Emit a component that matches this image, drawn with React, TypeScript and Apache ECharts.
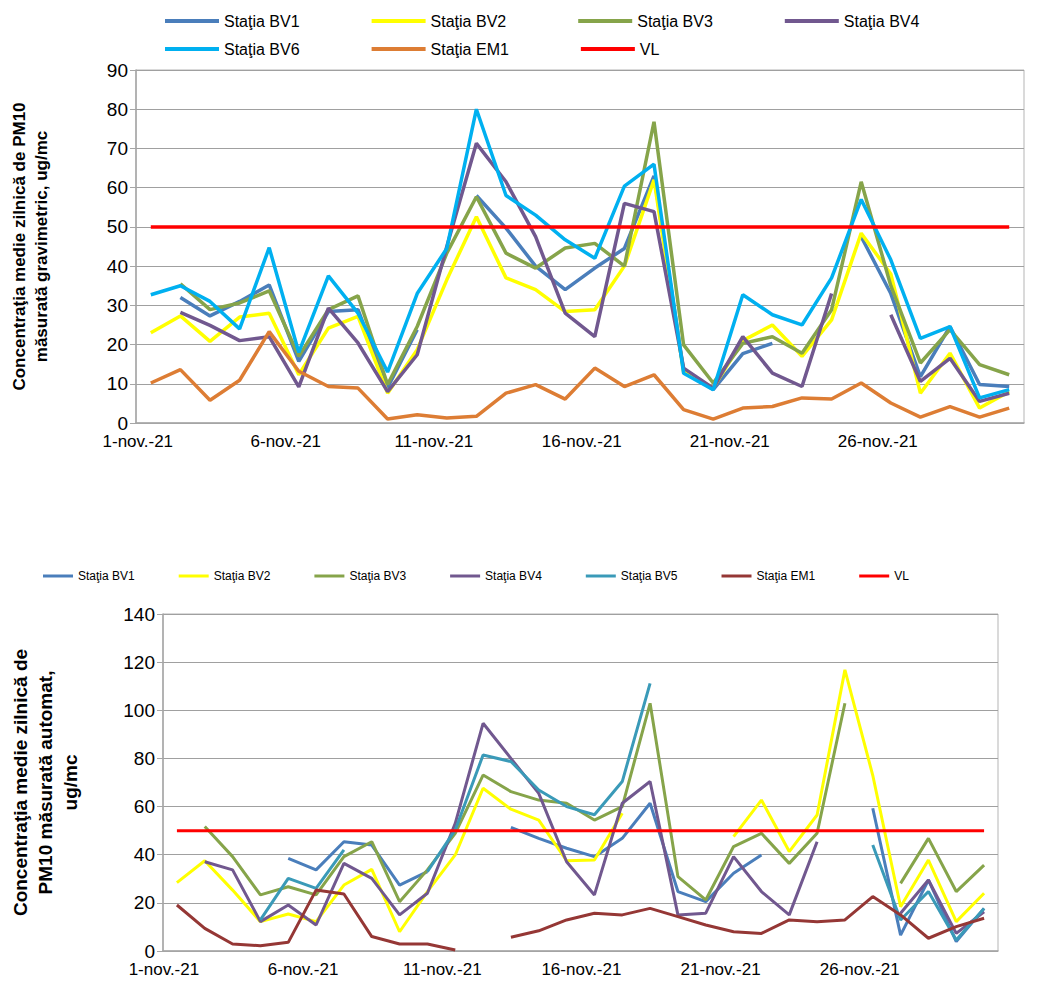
import { useEffect, useRef } from "react";
import * as echarts from "echarts";

const days = Array.from({ length: 30 }, (_, i) => `${i + 1}-nov.-21`);
const _ = null;

// grafic 1 - gravimetric
const gBV1 = [_, 32, 27.3, 31, 35.2, 15.7, 28.4, 28.9, 9, 23.8, _, 58, 49.7, 40, 34, 39.5, 44.5, 63, 13.5, 8.5, 17.7, 20.3, _, _, 47.5, 33, 11.8, 24.6, 9.8, 9.3];
const gBV2 = [23, 27.3, 20.8, 27, 28, 12.3, 24.2, 27.2, 7.6, 18.7, 36.5, 52.6, 37, 34, 28.4, 28.9, 40, 62, 13, 9, 21, 25, 17, 26.3, 48.4, 38, 7.6, 17.8, 3.8, 8];
const gBV3 = [_, 35.5, 28.9, 30.6, 33.7, 17, 28.9, 32.4, 9.8, 24.6, 43.3, 57.7, 43.3, 39.5, 44.6, 45.8, 40, 76.8, 19.9, 10.2, 20.3, 22, 17.8, 28.9, 61.5, 35, 15.3, 23.8, 14.9, 12.3];
const gBV4 = [_, 28.2, 24.9, 21, 22, 9.2, 29.3, 20.4, 8, 17.4, 45, 71.3, 61.5, 47.5, 28, 22, 56, 53.9, 14, 8.9, 22, 12.7, 9.3, 33, _, 27.6, 10.6, 16.5, 5.5, 7.6];
const gBV6 = [32.7, 35, 31, 24, 44.7, 18, 37.5, 28, 13, 33, 44.5, 80, 58, 53, 46.7, 42, 60.4, 66, 12.7, 8.5, 32.7, 27.6, 25, 37, 57, 41.6, 21.6, 24.6, 6.4, 8.5];
const gEM1 = [10.2, 13.6, 5.8, 10.9, 23.3, 13.2, 9.3, 8.9, 1, 2.1, 1.3, 1.7, 7.6, 9.8, 6.1, 14, 9.3, 12.3, 3.4, 1, 3.8, 4.2, 6.4, 6.1, 10.2, 5.1, 1.5, 4.2, 1.5, 3.8];

// grafic 2 - automat
const aBV1 = [_, _, _, _, 38.5, 33.7, 45.4, 44, 27.4, 33, _, _, 51.4, 46.8, 42.7, 39.2, 46.8, 61.4, 24.7, 20.5, 32.3, 39.9, _, _, _, 59.3, 6.6, 29.5, 3.9, 17.7];
const aBV2 = [28.4, 37.5, 25.3, 12.2, 15.4, 12.2, 27.4, 33.9, 8, 24.7, 39.9, 67.6, 58.9, 54.4, 37.5, 37.8, 57.2, _, _, _, 47.5, 62.7, 41.3, 56.5, 116.8, 73, 18.4, 37.8, 12.2, 24];
const aBV3 = [_, 51.7, 39.2, 23.3, 26.7, 23.3, 39.2, 45.4, 20.5, 33.7, 48.9, 73.1, 66.2, 62.7, 61.4, 54.4, 60, 102.9, 30.9, 21.2, 43.4, 48.9, 36.4, 48.9, 102.9, _, 28.1, 46.8, 24.7, 35.7];
const aBV4 = [_, 37.1, 33.7, 12.2, 19.1, 10.8, 36.4, 30.2, 15, 24, 53, 94.6, 80, 65.5, 37.1, 23.3, 61.4, 70.4, 15, 15.7, 39.2, 24.7, 15, 45.4, _, _, 15.7, 29.5, 7.3, 16.3];
const aBV5 = [_, _, _, 12.9, 30.2, 26, 42, _, _, 33, 50.3, 81.4, 78.7, 66.9, 60, 56.6, 70.4, 111.2, _, _, _, _, _, _, _, 44, 12.9, 24.7, 4.6, 17.7];
const aEM1 = [19.1, 9.4, 2.9, 2.2, 3.6, 25.3, 23.7, 6, 2.9, 2.9, 0.4, _, 5.7, 8.4, 12.9, 15.7, 15, 17.7, 14.3, 10.8, 8, 7.3, 12.9, 12.2, 12.9, 22.6, 15, 5.3, 10.1, 13.6];
const vl = days.map(() => 50);

const FONT = "Liberation Sans";

function lines(defs: [string, (number | null)[], string][], width: number) {
    return defs.map(([name, data, color]) => ({
        name,
        type: "line",
        data,
        color,
        symbol: "none",
        lineStyle: { width, color },
        connectNulls: false,
    }));
}

function baseAxis(fontSize: number) {
    return {
        type: "category",
        data: days,
        boundaryGap: true,
        axisLine: { lineStyle: { color: "#a6a6a6", width: 1.5 } },
        axisTick: { interval: 4, length: 6, lineStyle: { color: "#a6a6a6" } },
        axisLabel: { interval: 4, color: "#000", fontSize, fontFamily: FONT, padding: [0, 26, 0, 0], margin: 10 },
    };
}

function App() {
    const topRef = useRef<HTMLDivElement | null>(null);
    const botRef = useRef<HTMLDivElement | null>(null);

    useEffect(() => {
        document.body.style.margin = "0";
        if (!topRef.current || !botRef.current) return;
        const top = echarts.init(topRef.current, undefined, { renderer: "svg" });
        const bot = echarts.init(botRef.current, undefined, { renderer: "svg" });

        const legTxt = { fontSize: 16, fontFamily: FONT, color: "#000" };
        const leg = { left: 160, width: 890, itemWidth: 54, itemHeight: 4, itemGap: 72, textStyle: legTxt, icon: "rect" };
        top.setOption({
            animation: false,
            textStyle: { fontFamily: FONT },
            legend: [
                { ...leg, data: ["Staţia BV1", "Staţia BV2", "Staţia BV3", "Staţia BV4"], top: 8 },
                { ...leg, data: ["Staţia BV6", "Staţia EM1", "VL"], top: 36 },
            ],
            grid: { left: 131, right: 31, top: 70, bottom: 38, show: true, borderColor: "#b5b5b5", borderWidth: 1 },
            xAxis: baseAxis(17),
            yAxis: {
                type: "value", min: 0, max: 90, interval: 10,
                name: "Concentraţia medie zilnică de PM10\nmăsurată gravimetric, ug/mc",
                nameLocation: "middle", nameGap: 84,
                nameTextStyle: { fontSize: 17, fontWeight: "bold", color: "#000", fontFamily: FONT, lineHeight: 22 },
                axisLine: { show: true, lineStyle: { color: "#a6a6a6", width: 1.5 } },
                axisTick: { show: true, length: 6, lineStyle: { color: "#a6a6a6" } },
                axisLabel: { fontSize: 19, color: "#000", fontFamily: FONT },
                splitLine: { lineStyle: { color: "#a0a0a0", width: 1.2 } },
            },
            series: lines([
                ["Staţia BV1", gBV1, "#4a7ebb"],
                ["Staţia BV2", gBV2, "#ffff00"],
                ["Staţia BV3", gBV3, "#86a44a"],
                ["Staţia BV4", gBV4, "#71588f"],
                ["Staţia BV6", gBV6, "#00b0f0"],
                ["Staţia EM1", gEM1, "#dd7d34"],
                ["VL", vl, "#ff0000"],
            ], 3.5),
        });

        bot.setOption({
            animation: false,
            textStyle: { fontFamily: FONT },
            legend: {
                left: 38, top: 10, width: 1010, itemWidth: 30, itemHeight: 3, itemGap: 44, icon: "rect",
                textStyle: { fontSize: 12, fontFamily: FONT, color: "#000" },
            },
            grid: { left: 148, right: 57, top: 59, bottom: 40, show: true, borderColor: "#b5b5b5", borderWidth: 1 },
            xAxis: baseAxis(17),
            yAxis: {
                type: "value", min: 0, max: 140, interval: 20,
                name: "Concentraţia medie zilnică de\nPM10 măsurată automat,\nug/mc",
                nameLocation: "middle", nameGap: 80,
                nameTextStyle: { fontSize: 19, fontWeight: "bold", color: "#000", fontFamily: FONT, lineHeight: 25, align: "center" },
                axisLine: { show: true, lineStyle: { color: "#a6a6a6", width: 1.5 } },
                axisTick: { show: true, length: 6, lineStyle: { color: "#a6a6a6" } },
                axisLabel: { fontSize: 19, color: "#000", fontFamily: FONT },
                splitLine: { lineStyle: { color: "#a0a0a0", width: 1.2 } },
            },
            series: lines([
                ["Staţia BV1", aBV1, "#4a7ebb"],
                ["Staţia BV2", aBV2, "#ffff00"],
                ["Staţia BV3", aBV3, "#86a44a"],
                ["Staţia BV4", aBV4, "#71588f"],
                ["Staţia BV5", aBV5, "#3a9ab8"],
                ["Staţia EM1", aEM1, "#953735"],
                ["VL", vl, "#ff0000"],
            ], 3),
        });

        return () => {
            top.dispose();
            bot.dispose();
        };
    }, []);

    return (
        <div style={{ width: 1055, height: 991, background: "#fff", position: "relative" }}>
            <div ref={topRef} style={{ position: "absolute", left: 0, top: 0, width: 1055, height: 461 }} />
            <div ref={botRef} style={{ position: "absolute", left: 0, top: 555, width: 1055, height: 436 }} />
        </div>
    );
}

export default App;
